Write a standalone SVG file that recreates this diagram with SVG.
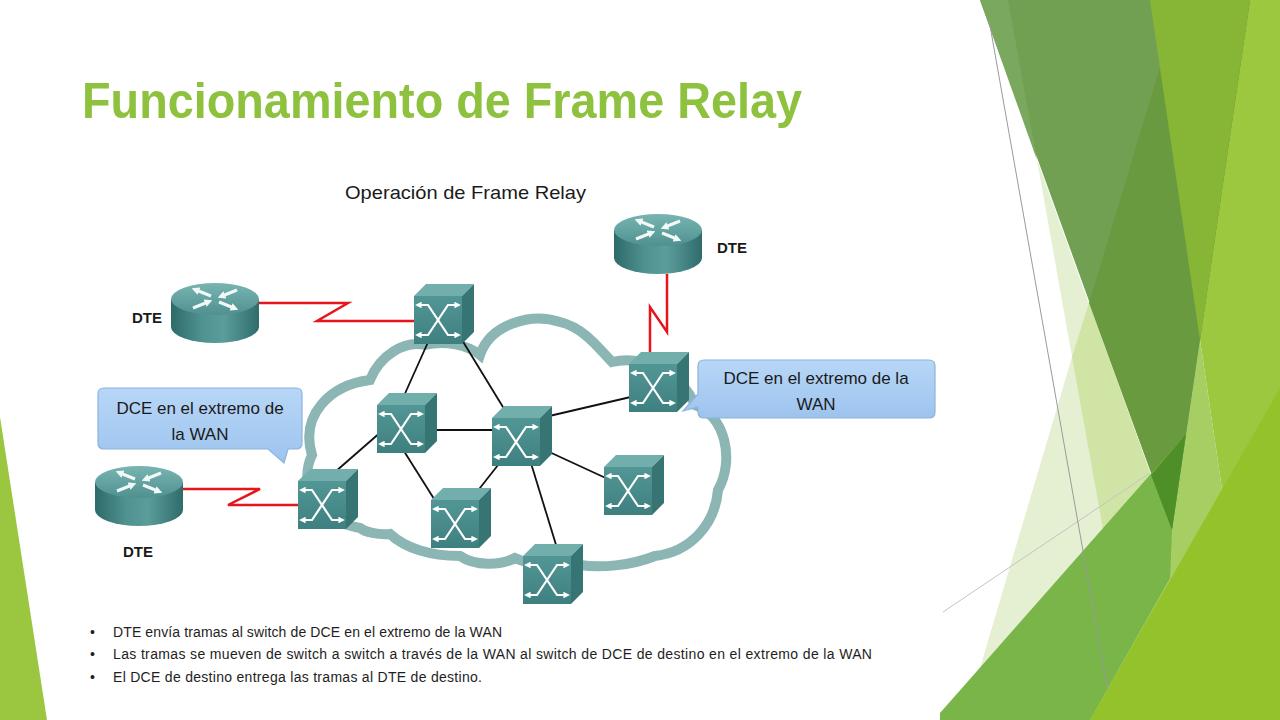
<svg xmlns="http://www.w3.org/2000/svg" width="1280" height="720" viewBox="0 0 1280 720">
<style>
.lbl{font-family:"Liberation Sans",Arial,sans-serif;fill:#1a1a1a}
.dte{font-family:"Liberation Sans",Arial,sans-serif;font-weight:bold;font-size:15px;fill:#1a1a1a}
.call{font-family:"Liberation Sans",Arial,sans-serif;font-size:17px;fill:#1a1a1a;text-anchor:middle}
.bul{font-family:"Liberation Sans",Arial,sans-serif;font-size:14px;fill:#1e1e1e}
.link{stroke:#111;stroke-width:1.8;fill:none}
.serial{stroke:#e8141c;stroke-width:2.5;fill:none;stroke-linejoin:miter}
.glyph{stroke:#fff;stroke-width:2.2;fill:none}
.rglyph{stroke:#f2f8f8;stroke-width:3;fill:none}
</style>
<defs>
<marker id="ah" viewBox="0 0 10 10" refX="4" refY="5" markerWidth="3" markerHeight="3" orient="auto-start-reverse">
<path d="M0,0 L10,5 L0,10 z" fill="#fff"/>
</marker>
<marker id="ah2" viewBox="0 0 10 10" refX="4" refY="5" markerWidth="2.6" markerHeight="2.6" orient="auto-start-reverse">
<path d="M0,0 L10,5 L0,10 z" fill="#f2f8f8"/>
</marker>
<linearGradient id="swFront" x1="0" y1="0" x2="0" y2="1">
<stop offset="0" stop-color="#529695"/>
<stop offset="1" stop-color="#3d807f"/>
</linearGradient>
<linearGradient id="rtBody" x1="0" y1="0" x2="1" y2="0">
<stop offset="0" stop-color="#2d6a69"/>
<stop offset="0.35" stop-color="#4f9290"/>
<stop offset="0.6" stop-color="#5b9d9b"/>
<stop offset="1" stop-color="#2f6c6b"/>
</linearGradient>
<linearGradient id="rtTop" x1="0" y1="0" x2="0" y2="1">
<stop offset="0" stop-color="#78b5b2"/>
<stop offset="1" stop-color="#4f918f"/>
</linearGradient>
<linearGradient id="callFill" x1="0" y1="0" x2="0" y2="1">
<stop offset="0" stop-color="#b8d7f7"/>
<stop offset="1" stop-color="#9dc3ee"/>
</linearGradient>
<g id="sw">
<polygon points="0,12 12,0 60,0 48,12" fill="#72aeab"/>
<polygon points="48,12 60,0 60,48 48,60" fill="#367574"/>
<rect x="0" y="12" width="48" height="48" fill="url(#swFront)"/>
<path class="glyph" d="M5,21 H14 L34,51 H43" marker-start="url(#ah)" marker-end="url(#ah)"/>
<path class="glyph" d="M5,51 H14 L34,21 H43" marker-start="url(#ah)" marker-end="url(#ah)"/>
</g>
<g id="rt">
<path d="M0,16 V44 A44,16 0 0 0 88,44 V16 Z" fill="url(#rtBody)"/>
<ellipse cx="44" cy="16" rx="44" ry="16" fill="url(#rtTop)"/>
<line class="rglyph" x1="40" y1="13" x2="25" y2="7" marker-end="url(#ah2)"/>
<line class="rglyph" x1="48" y1="19" x2="63" y2="25" marker-end="url(#ah2)"/>
<line class="rglyph" x1="66" y1="7" x2="51" y2="13" marker-end="url(#ah2)"/>
<line class="rglyph" x1="22" y1="25" x2="37" y2="19" marker-end="url(#ah2)"/>
</g>
</defs>
<rect width="1280" height="720" fill="#ffffff"/>
<g id="decoration">
<polygon points="0,417 47,720 0,720" fill="#9ac73f"/>
<polygon points="1200,340 1256,720 1090,720 1172,530" fill="#a6ce63"/>
<polygon points="1150,0 1280,0 1280,720 1256,720" fill="#9bc83e"/>
<polygon points="1037,160 1072,357 980,668 1151,475" fill="#e5f0d2"/>
<polygon points="1072,357 1103,529 1151,475 1089,303" fill="#d0e5a5"/>
<polygon points="980,0 1250,0 1172,530" fill="#72a053"/>
<polygon points="980,0 1008,0 1037,160" fill="#7aa85e"/>
<polygon points="1180,0 1250,0 1172,530 1089,303" fill="#6a9a40"/>
<polygon points="1150,0 1250,0 1200,340" fill="#87b536"/>
<line x1="943" y1="612" x2="1150" y2="473" stroke="#c4c4c4" stroke-width="1"/>
<polygon points="940,713 1186,434 1172,530 1170,578 1090,720 940,720" fill="#7ab54a"/>
<polygon points="1151,475 1186,434 1172,530" fill="#4f8f28"/>
<line x1="989" y1="20" x2="1108" y2="692" stroke="#9a9a9a" stroke-width="1"/>
<polygon points="1090,720 1280,388 1280,720" fill="#93c22b"/>
</g>
<text id="title" x="82" y="118" font-family="'Liberation Sans',Arial,sans-serif" font-weight="bold" font-size="50" fill="#8dc13e" textLength="720" lengthAdjust="spacingAndGlyphs">Funcionamiento de Frame Relay</text>
<text id="subtitle" class="lbl" x="345" y="199" font-size="19" fill="#222" textLength="241" lengthAdjust="spacingAndGlyphs">Operación de Frame Relay</text>
<g id="cloud">
<path d="M360,528 C315,520 298,485 312,455 C300,415 330,385 370,380 C380,355 405,340 425,345 C445,340 468,345 480,355 C490,325 530,312 560,322 C585,328 600,350 612,362 C640,355 680,370 695,405 C725,415 735,460 718,490 C715,525 690,552 655,556 C630,566 600,568 580,565 C560,570 530,565 515,558 C500,566 475,566 460,556 C430,556 405,548 390,534 C378,535 365,532 360,528 Z" fill="#ffffff" stroke="#8cb6b4" stroke-width="10"/>
</g>
<g id="connectors">
<line class="link" x1="429" y1="340" x2="403" y2="398"/>
<line class="link" x1="462" y1="340" x2="506" y2="412"/>
<line class="link" x1="430" y1="430" x2="498" y2="430"/>
<line class="link" x1="382" y1="431" x2="335" y2="472"/>
<line class="link" x1="402" y1="448" x2="436" y2="502"/>
<line class="link" x1="502" y1="460" x2="476" y2="493"/>
<line class="link" x1="545" y1="417" x2="635" y2="396"/>
<line class="link" x1="545" y1="450" x2="610" y2="480"/>
<line class="link" x1="530" y1="460" x2="557" y2="548"/>
<path class="serial" d="M257,303 H348 L317,321 H418"/>
<path class="serial" d="M667,274 V332 L650,307 V356"/>
<path class="serial" d="M181,489 H260 L228,505 H300"/>
</g>
<g id="sw1"><use href="#sw" x="414" y="284"/></g>
<g id="sw2"><use href="#sw" x="629" y="352"/></g>
<g id="sw3"><use href="#sw" x="377" y="393"/></g>
<g id="sw4"><use href="#sw" x="492" y="406"/></g>
<g id="sw5"><use href="#sw" x="604" y="455"/></g>
<g id="sw6"><use href="#sw" x="298" y="469"/></g>
<g id="sw7"><use href="#sw" x="431" y="488"/></g>
<g id="sw8"><use href="#sw" x="523" y="544"/></g>
<g id="dte1"><use href="#rt" x="171" y="283"/><text class="dte" x="132" y="323">DTE</text></g>
<g id="dte2"><use href="#rt" x="614" y="214"/><text class="dte" x="717" y="253">DTE</text></g>
<g id="dte3"><use href="#rt" x="95" y="466"/><text class="dte" x="123" y="557">DTE</text></g>
<g id="callout-left">
<path d="M104,388 H296 Q302,388 302,394 V443 Q302,449 296,449 H288 L284,463 L268,449 H104 Q98,449 98,443 V394 Q98,388 104,388 Z" fill="url(#callFill)" stroke="#8bb3de" stroke-width="1.2"/>
<text class="call" x="200" y="414">DCE en el extremo de</text>
<text class="call" x="200" y="440">la WAN</text>
</g>
<g id="callout-right">
<path d="M704,360 H929 Q935,360 935,366 V412 Q935,418 929,418 H704 Q698,418 698,412 V407 L683,411 L698,394 V366 Q698,360 704,360 Z" fill="url(#callFill)" stroke="#8bb3de" stroke-width="1.2"/>
<text class="call" x="816" y="384">DCE en el extremo de la</text>
<text class="call" x="816" y="410">WAN</text>
</g>
<g id="bullets">
<text class="bul" x="90" y="637">•</text>
<text class="bul" x="113" y="637" textLength="389">DTE envía tramas al switch de DCE en el extremo de la WAN</text>
<text class="bul" x="90" y="659">•</text>
<text class="bul" x="113" y="659" textLength="759">Las tramas se mueven de switch a switch a través de la WAN al switch de DCE de destino en el extremo de la WAN</text>
<text class="bul" x="90" y="682">•</text>
<text class="bul" x="113" y="682" textLength="369">El DCE de destino entrega las tramas al DTE de destino.</text>
</g>
</svg>
